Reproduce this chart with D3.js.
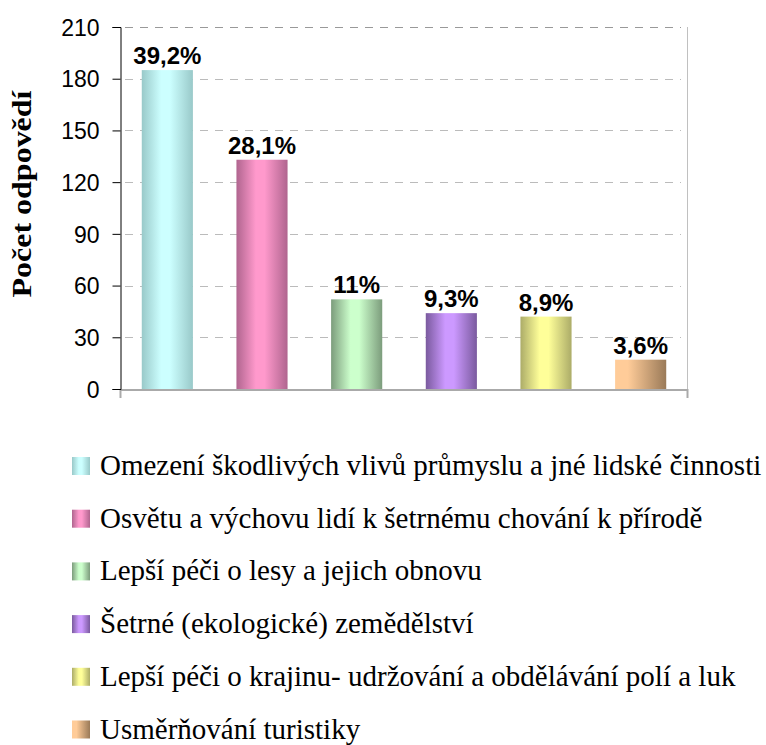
<!DOCTYPE html>
<html>
<head>
<meta charset="utf-8" />
<script src="https://cdn.jsdelivr.net/npm/d3@7"></script>
<style>
    body { margin: 0; background: #fff; }
    svg { display: block; }
    .serif { font-family: "Liberation Serif", "Times New Roman", Tinos, "DejaVu Serif", serif; }
    .sans { font-family: "Liberation Sans", Arial, Arimo, sans-serif; }
</style>
</head>
<body>
<script>
    var categories = [
        "Omezení škodlivých vlivů průmyslu a jné lidské činnosti",
        "Osvětu a výchovu lidí k šetrnému chování k přírodě",
        "Lepší péči o lesy a jejich obnovu",
        "Šetrné (ekologické) zemědělství",
        "Lepší péči o krajinu- udržování  a obdělávání polí a luk",
        "Usměrňování turistiky"
    ];
    var counts = [185, 133, 52, 44, 42, 17];
    var percentLabels = ["39,2%", "28,1%", "11%", "9,3%", "8,9%", "3,6%"];
    var yTicks = [0, 30, 60, 90, 120, 150, 180, 210];
    var lightColors = ["#ccffff", "#ff99cc", "#ccffcc", "#cc99ff", "#ffff99", "#ffcc99"];
    var darkColors = ["#99c9c9", "#b0658f", "#7c9c7c", "#7a5a9e", "#acac68", "#9a7a58"];

    var width = 766, height = 745;
    var plotLeft = 120, plotRight = 688, plotTop = 27, plotBottom = 389;

    var svg = d3.select("body").append("svg")
        .attr("width", width)
        .attr("height", height);

    var x = d3.scaleBand()
        .domain(d3.range(categories.length))
        .range([plotLeft, plotRight])
        .paddingInner(0.46)
        .paddingOuter(0.23);

    var y = d3.scaleLinear()
        .domain([0, 210])
        .range([plotBottom, plotTop]);

    // gradients
    var defs = svg.append("defs");
    categories.forEach(function (c, i) {
        var g = defs.append("linearGradient")
            .attr("id", "grad" + i)
            .attr("x1", "0%").attr("x2", "100%")
            .attr("y1", "0%").attr("y2", "0%");
        if (i === categories.length - 1) {
            g.append("stop").attr("offset", "0%").attr("stop-color", lightColors[i]);
            g.append("stop").attr("offset", "25%").attr("stop-color", lightColors[i]);
            g.append("stop").attr("offset", "100%").attr("stop-color", darkColors[i]);
        } else {
            g.append("stop").attr("offset", "0%").attr("stop-color", darkColors[i]);
            g.append("stop").attr("offset", "38%").attr("stop-color", lightColors[i]);
            g.append("stop").attr("offset", "55%").attr("stop-color", lightColors[i]);
            g.append("stop").attr("offset", "100%").attr("stop-color", darkColors[i]);
        }
    });

    // gridlines
    svg.append("g")
        .selectAll("line")
        .data(yTicks.filter(function (d) { return d > 0; }))
        .enter().append("line")
        .attr("x1", plotLeft + 5)
        .attr("x2", plotRight - 7)
        .attr("y1", function (d) { return Math.round(y(d)) + 0.5; })
        .attr("y2", function (d) { return Math.round(y(d)) + 0.5; })
        .attr("stroke", function (d) { return d === 210 ? "#999" : "#bbb"; })
        .attr("stroke-width", 1)
        .attr("stroke-dasharray", "8,7");

    // right border
    svg.append("line")
        .attr("x1", plotRight - 0.5).attr("x2", plotRight - 0.5)
        .attr("y1", plotTop).attr("y2", plotBottom + 9)
        .attr("stroke", "#c0c0c0").attr("stroke-width", 1);

    // bars
    svg.append("g")
        .selectAll("rect")
        .data(counts)
        .enter().append("rect")
        .attr("x", function (d, i) { return x(i); })
        .attr("width", x.bandwidth())
        .attr("y", function (d) { return y(d); })
        .attr("height", function (d) { return y(0) - y(d); })
        .attr("fill", function (d, i) { return "url(#grad" + i + ")"; });

    // bar labels
    svg.append("g")
        .selectAll("text")
        .data(counts)
        .enter().append("text")
        .attr("class", "sans")
        .attr("x", function (d, i) { return x(i) + x.bandwidth() / 2; })
        .attr("y", function (d) { return y(d) - 6; })
        .attr("text-anchor", "middle")
        .attr("font-weight", "bold")
        .attr("font-size", 24)
        .attr("fill", "#000")
        .text(function (d, i) { return percentLabels[i]; });

    // x axis (gray)
    svg.append("line")
        .attr("x1", plotLeft).attr("x2", plotRight)
        .attr("y1", plotBottom + 1).attr("y2", plotBottom + 1)
        .attr("stroke", "#aaa").attr("stroke-width", 2);
    [plotLeft + 0.5, plotRight - 0.5].forEach(function (px) {
        svg.append("line")
            .attr("x1", px).attr("x2", px)
            .attr("y1", plotBottom).attr("y2", plotBottom + 9)
            .attr("stroke", "#aaa").attr("stroke-width", 2);
    });

    // y axis
    var yAxis = svg.append("g")
        .attr("transform", "translate(" + (plotLeft + 0.5) + ",0)")
        .call(d3.axisLeft(y).tickValues(yTicks).tickSize(8).tickPadding(13));
    yAxis.attr("font-family", null).attr("font-size", null);
    yAxis.select(".domain").attr("stroke", "#000");
    yAxis.selectAll(".tick line").attr("stroke", "#000");
    yAxis.selectAll(".tick text")
        .attr("class", "sans")
        .attr("font-size", 23)
        .attr("fill", "#000")
        .attr("dy", "0.36em");

    // y title
    svg.append("text")
        .attr("class", "serif")
        .attr("transform", "translate(31," + ((plotTop + plotBottom) / 2 - 14) + ") rotate(-90)")
        .attr("text-anchor", "middle")
        .attr("font-weight", "bold")
        .attr("font-size", 28)
        .attr("textLength", 207)
        .attr("lengthAdjust", "spacingAndGlyphs")
        .attr("fill", "#000")
        .text("Počet odpovědí");

    // legend
    var legend = svg.append("g")
        .selectAll("g")
        .data(categories)
        .enter().append("g")
        .attr("transform", function (d, i) { return "translate(72," + (457 + i * 52.7) + ")"; });

    legend.append("rect")
        .attr("width", 18)
        .attr("height", 18)
        .attr("fill", function (d, i) { return "url(#grad" + i + ")"; });

    legend.append("text")
        .attr("class", "serif")
        .attr("x", 28)
        .attr("y", 18)
        .attr("font-size", 29)
        .attr("fill", "#000")
        .text(function (d) { return d; });
</script>
</body>
</html>
